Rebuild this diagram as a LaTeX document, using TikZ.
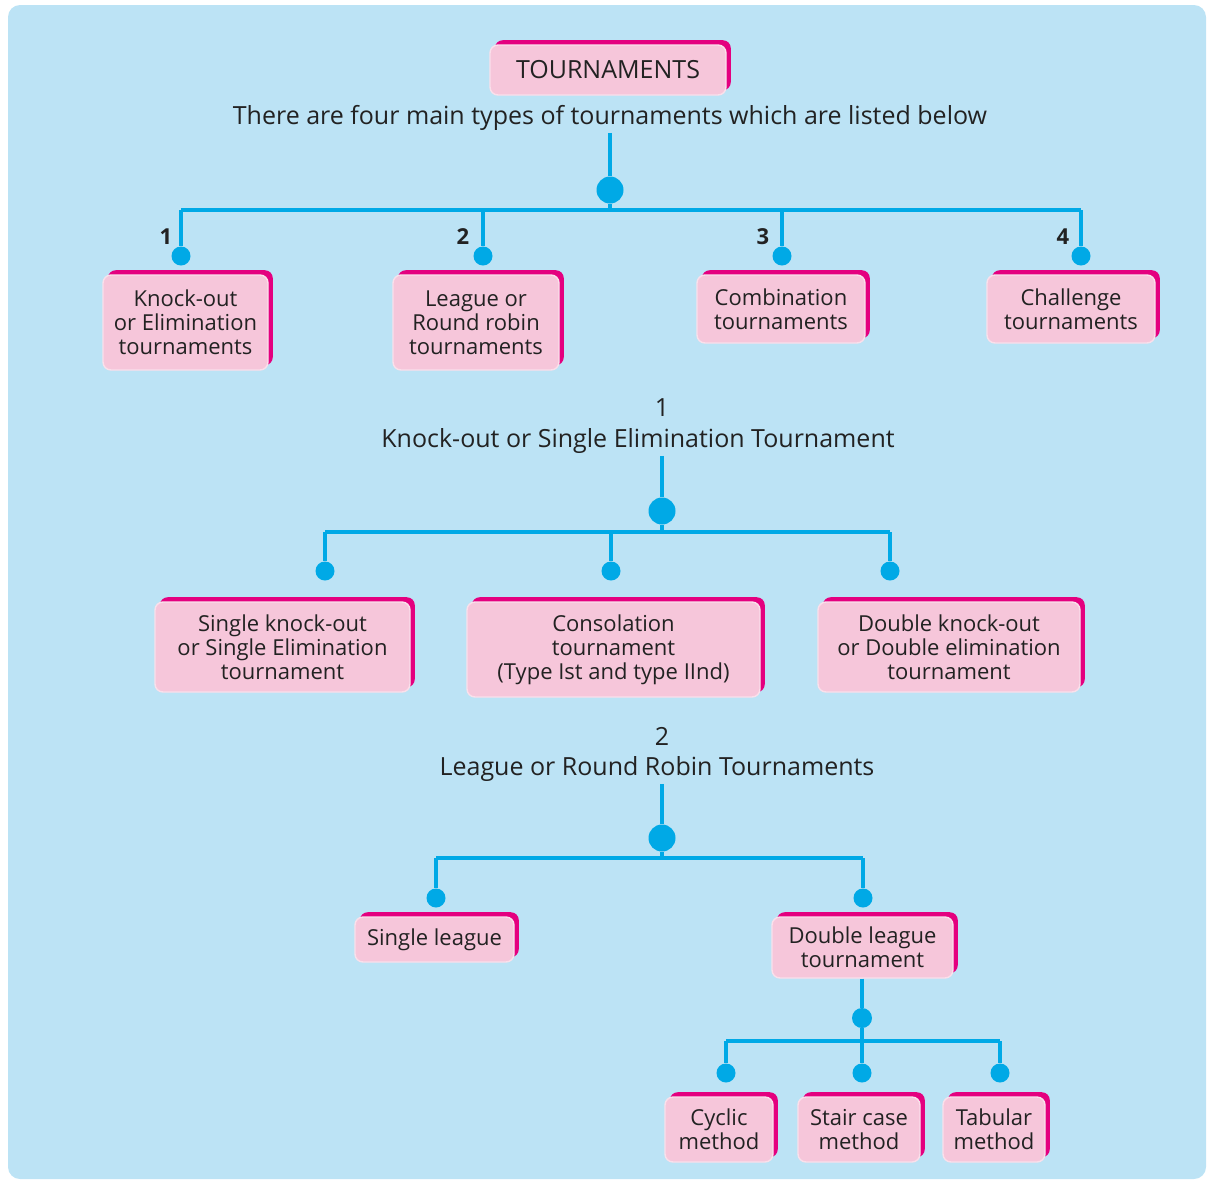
\documentclass[tikz,border=0pt]{standalone}
\usepackage{fontspec}
\setmainfont{Open Sans}
\usepackage{tikz}
\usetikzlibrary{shadows}
\definecolor{paper}{HTML}{BCE3F5}
\definecolor{tpink}{HTML}{F6C6DA}
\definecolor{tmag}{HTML}{E4007F}
\definecolor{tline}{HTML}{00A9E6}
\definecolor{ink}{HTML}{222222}

\begin{document}
\begin{tikzpicture}[
  x=0.5pt, y=-0.5pt,
  every node/.style={font=\fontsize{11}{12}\selectfont, text=ink},
  tbox/.style={fill=tpink, draw=white!45!tpink, line width=0.7pt,
    rounded corners=4pt, align=center, inner sep=1pt,
    general shadow={shadow xshift=2.4pt, shadow yshift=2.4pt, fill=tmag, draw=none}},
  head/.style={font=\fontsize{12.5}{14}\selectfont, inner sep=1pt},
  num/.style={font=\fontsize{11}{12}\selectfont\bfseries, inner sep=0pt},
  link/.style={draw=tline, line width=1.8pt},
  bigdot/.style={circle, fill=tline, minimum size=13.5pt, inner sep=0pt},
  dot/.style={circle, fill=tline, minimum size=9.5pt, inner sep=0pt},
]
\useasboundingbox (0,0) rectangle (1207,1180);

% Background panel
\fill[paper, rounded corners=6pt] (8,5) rectangle (1206,1179);

% Title
\node[tbox, minimum width=118pt, minimum height=25pt, font=\fontsize{12.5}{14}\selectfont] (top) at (608,70) {TOURNAMENTS};
\node[head] (sub) at (610,118) {There are four main types of tournaments which are listed below};

% Four main types
\node[bigdot] (d0) at (610,190) {};
\coordinate (a1) at (181,210);
\coordinate (a4) at (1081,210);
\node[dot] (p1) at (181,256) {};
\node[dot] (p2) at (483,256) {};
\node[dot] (p3) at (782,256) {};
\node[dot] (p4) at (1081,256) {};
\draw[link] (sub.south) -- (d0) -- (d0 |- a1);
\draw[link] (a1) -- (a4);
\foreach \p in {p1,p2,p3,p4}
  \draw[link] (\p |- a1) -- (\p);
\node[num] (n1) at (166,237) {1};
\node[num] (n2) at (463,237) {2};
\node[num] (n3) at (763,237) {3};
\node[num] (n4) at (1063,237) {4};

\node[tbox, minimum width=82.5pt, minimum height=47.5pt] (k1) at (185.5,322.5) {Knock-out\\or Elimination\\tournaments};
\node[tbox, minimum width=83pt, minimum height=47.5pt] (k2) at (476,322.5) {League or\\Round robin\\tournaments};
\node[tbox, minimum width=84pt, minimum height=34pt] (k3) at (781,309) {Combination\\tournaments};
\node[tbox, minimum width=84pt, minimum height=34pt] (k4) at (1071,309) {Challenge\\tournaments};

% Knock-out branch
\node[head] (h1) at (662,408) {1};
\node[head] (h1t) at (638,441) {Knock-out or Single Elimination Tournament};
\node[bigdot] (e0) at (662,511) {};
\coordinate (b1) at (325,532);
\coordinate (b3) at (890,532);
\node[dot] (q1) at (325,571) {};
\node[dot] (q2) at (611,571) {};
\node[dot] (q3) at (890,571) {};
\draw[link] (e0 |- h1t.south) -- (e0) -- (e0 |- b1);
\draw[link] (b1) -- (b3);
\foreach \q in {q1,q2,q3}
  \draw[link] (\q |- b1) -- (\q);

\node[tbox, minimum width=127.5pt, minimum height=45pt] (s1) at (282.5,647) {Single knock-out\\or Single Elimination\\tournament};
\node[tbox, minimum width=146.5pt, minimum height=47.5pt] (s2) at (613.5,649.5) {Consolation\\tournament\\(Type Ist and type IInd)};
\node[tbox, minimum width=131pt, minimum height=45pt] (s3) at (949,647) {Double knock-out\\or Double elimination\\tournament};

% League branch
\node[head] (h2) at (662,736) {2};
\node[head] (h2t) at (657,769) {League or Round Robin Tournaments};
\node[bigdot] (f0) at (662,838) {};
\coordinate (c1) at (436,858);
\coordinate (c2) at (863,858);
\node[dot] (g1) at (436,898) {};
\node[dot] (g2) at (863,898) {};
\draw[link] (f0 |- h2t.south) -- (f0) -- (f0 |- c1);
\draw[link] (c1) -- (c2);
\foreach \g in {g1,g2}
  \draw[link] (\g |- c1) -- (\g);

\node[tbox, minimum width=79.5pt, minimum height=22.5pt] (r1) at (434.5,939.5) {Single league};
\node[tbox, minimum width=90.5pt, minimum height=30.5pt] (r2) at (862.5,947.5) {Double league\\tournament};

% Double league methods
\node[dot, minimum size=10pt] (u0) at (862,1018) {};
\coordinate (v1) at (726,1041);
\coordinate (v3) at (1000,1041);
\node[dot] (t1) at (726,1073) {};
\node[dot] (t2) at (862,1073) {};
\node[dot] (t3) at (1000,1073) {};
\draw[link] (u0 |- r2.south) -- (u0) -- (u0 |- v1);
\draw[link] (v1) -- (v3);
\foreach \t in {t1,t2,t3}
  \draw[link] (\t |- v1) -- (\t);

\node[tbox, minimum width=54pt, minimum height=32.5pt] (m1) at (719,1129.5) {Cyclic\\method};
\node[tbox, minimum width=61pt, minimum height=32.5pt] (m2) at (859,1129.5) {Stair case\\method};
\node[tbox, minimum width=51pt, minimum height=32.5pt] (m3) at (994,1129.5) {Tabular\\method};

\end{tikzpicture}
\end{document}
